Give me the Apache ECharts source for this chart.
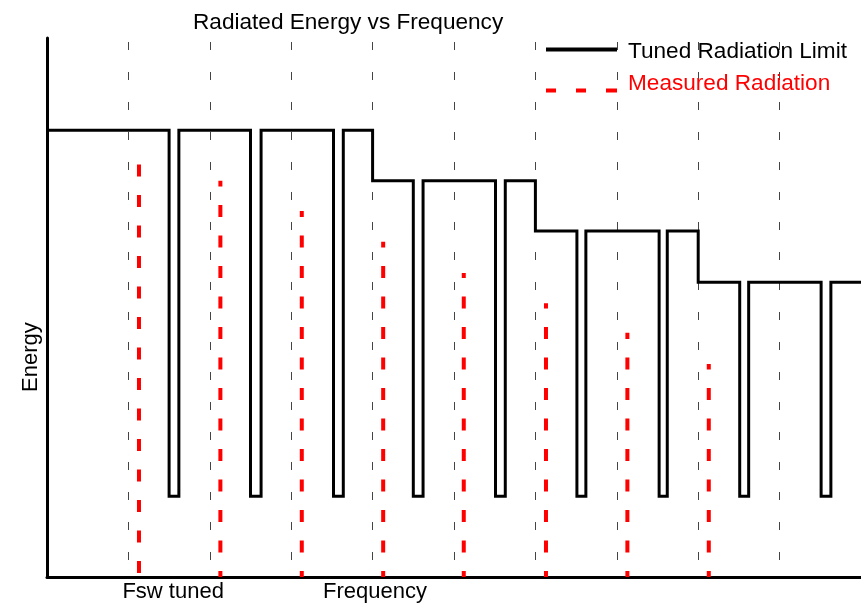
<!DOCTYPE html>
<html>
<head>
<meta charset="utf-8">
<title>Radiated Energy vs Frequency</title>
<script src="https://cdn.jsdelivr.net/npm/echarts@6/dist/echarts.min.js"></script>
<style>
  html, body { margin: 0; padding: 0; background: #fff; }
  #chart { width: 861px; height: 605px; }
</style>
</head>
<body>
<div id="chart"></div>
<script>
// limit curve: level changes at these x (frequency units, gray lines at 1..9)
var stepEdges = [0, 4, 6, 8, 10];
var limitLevels = [82.9, 73.5, 64.2, 54.7];
// narrow notches in the limit
var notchLeft = [1.5, 2.5, 3.52, 4.5, 5.51, 6.51, 7.52, 8.51, 9.51];
var notchRight = [1.62, 2.63, 3.64, 4.62, 5.63, 6.62, 7.62, 8.62, 9.63];
var notchFloor = 15.0;
// measured radiation spikes
var measuredX = [1.13, 2.13, 3.13, 4.13, 5.12, 6.13, 7.13, 8.13];
var measuredTop = [77.4, 73.5, 67.9, 62.2, 56.4, 50.8, 45.3, 39.5];
// axis texts
var freqLabels = ['Fsw tuned', 'Frequency'];
var freqLabelAt = [1.55, 4.03];
var energyLabel = 'Energy';
var energyLabelAt = [40.8];

var FONT = 'Liberation Sans, Arial, sans-serif';

function levelIndex(x) {
  for (var i = 0; i < limitLevels.length; i++) {
    if (x >= stepEdges[i] && x < stepEdges[i + 1]) return i;
  }
  return limitLevels.length - 1;
}

// build the polyline of the limit
var events = [];
notchLeft.forEach(function (l, i) { events.push({ x: l, notch: true, r: notchRight[i] }); });
for (var k = 1; k < stepEdges.length - 1; k++) events.push({ x: stepEdges[k], notch: false, idx: k });
events.sort(function (a, b) { return a.x - b.x; });

var limitData = [[stepEdges[0], limitLevels[0]]];
events.forEach(function (e) {
  if (e.notch) {
    var lv = limitLevels[levelIndex(e.x)];
    limitData.push([e.x, lv], [e.x, notchFloor], [e.r, notchFloor], [e.r, lv]);
  } else {
    limitData.push([e.x, limitLevels[e.idx - 1]], [e.x, limitLevels[e.idx]]);
  }
});
limitData.push([stepEdges[stepEdges.length - 1], limitLevels[limitLevels.length - 1]]);

var series = [{
  name: 'Tuned Radiation Limit',
  type: 'line',
  data: limitData,
  symbol: 'none',
  z: 3,
  itemStyle: { color: '#000' },
  lineStyle: { color: '#000', width: 3, join: 'miter', cap: 'butt' }
}];
measuredX.forEach(function (x, i) {
  series.push({
    name: 'Measured Radiation',
    type: 'line',
    data: [[x, 0], [x, measuredTop[i]]],
    symbol: 'none',
    z: 4,
    itemStyle: { color: '#ff0000' },
    // first spike's dashes sit a bit higher than the others
    lineStyle: { color: '#ff0000', width: 4, type: [12, 18.5], dashOffset: i === 0 ? 26.5 : 6, cap: 'butt' }
  });
});

var chart = echarts.init(document.getElementById('chart'));
chart.setOption({
  animation: false,
  textStyle: { fontFamily: FONT },
  title: {
    text: 'Radiated Energy vs Frequency',
    left: 193,
    top: 11,
    padding: 0,
    textStyle: { fontFamily: FONT, fontSize: 22.6, fontWeight: 'normal', color: '#000' }
  },
  legend: [{
    data: ['Tuned Radiation Limit'],
    left: 546,
    top: 40,
    padding: 0,
    // solid bar sitting a little above the text middle
    icon: 'path://M0,0h71v4h-71zM0,7.99h0.01v0.01h-0.01z',
    itemWidth: 71,
    itemHeight: 8,
    textStyle: { fontFamily: FONT, fontSize: 22.6, color: '#000', padding: [0, 0, 0, 6] }
  }, {
    data: ['Measured Radiation'],
    left: 546,
    top: 72,
    padding: 0,
    // three dashes sitting below the text middle
    icon: 'path://M0,0h0.01v0.01h-0.01zM0,14h10v4h-10zM30,14h10v4h-10zM60,14h11v4h-11z',
    itemWidth: 71,
    itemHeight: 18,
    textStyle: { fontFamily: FONT, fontSize: 22.6, color: '#ff0000', padding: [0, 0, 0, 6] }
  }],
  grid: { left: 47, right: 0, top: 38, bottom: 28, containLabel: false },
  xAxis: {
    type: 'value',
    min: 0,
    max: 10,
    interval: 1,
    axisLine: { show: true, lineStyle: { color: '#000', width: 3 } },
    axisTick: { show: false },
    splitLine: { show: true, lineStyle: { color: '#444', width: 1, type: [8, 22], dashOffset: 26 } },
    axisLabel: {
      customValues: freqLabelAt,
      margin: 4,
      fontFamily: FONT,
      fontSize: 22,
      color: '#000',
      formatter: function (v) {
        var i = freqLabelAt.indexOf(v);
        return i >= 0 ? freqLabels[i] : '';
      }
    }
  },
  yAxis: {
    type: 'value',
    min: 0,
    max: 100,
    axisLine: { show: true, lineStyle: { color: '#000', width: 3 } },
    axisTick: { show: false },
    splitLine: { show: false },
    axisLabel: {
      customValues: energyLabelAt,
      rotate: 90,
      margin: 5,
      fontFamily: FONT,
      fontSize: 22,
      color: '#000',
      formatter: function () { return energyLabel; }
    }
  },
  series: series
});
</script>
</body>
</html>
